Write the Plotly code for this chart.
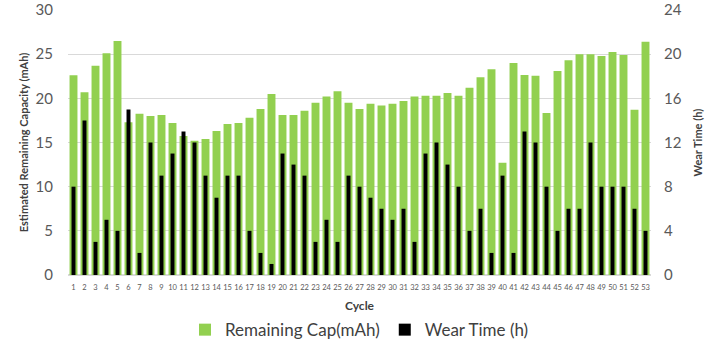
import plotly.graph_objects as go

cycles = [str(i) for i in range(1, 54)]
remaining_cap = [22.6, 20.7, 23.7, 25.1, 26.5, 17.3, 18.25, 18.0, 18.1, 17.2,
                 15.75, 15.2, 15.4, 16.3, 17.1, 17.2, 17.8, 18.8, 20.5, 18.1,
                 18.1, 18.6, 19.5, 20.2, 20.8, 19.5, 18.8, 19.4, 19.2, 19.4,
                 19.7, 20.2, 20.3, 20.3, 20.6, 20.3, 21.2, 22.4, 23.3, 12.7,
                 24.0, 22.65, 22.55, 18.35, 23.1, 24.3, 25.0, 25.0, 24.8, 25.25,
                 24.9, 18.7, 26.4]
wear_time = [8, 14, 3, 5, 4, 15, 2, 12, 9, 11,
             13, 12, 9, 7, 9, 9, 4, 2, 1, 11,
             10, 9, 3, 5, 3, 9, 8, 7, 6, 5,
             6, 3, 11, 12, 10, 8, 4, 6, 2, 9,
             2, 13, 12, 8, 4, 6, 6, 12, 8, 8,
             8, 6, 4]

FONT = "Lato"
fig = go.Figure()
fig.add_trace(go.Bar(x=cycles, y=remaining_cap, name="Remaining Cap(mAh)",
                     marker=dict(color="#92D050", line=dict(width=0)), width=0.72,
                     yaxis="y"))
fig.add_trace(go.Bar(x=cycles, y=wear_time, name="Wear Time (h)",
                     marker=dict(color="#000000", line=dict(width=0)), width=0.36,
                     yaxis="y2"))

fig.update_layout(
    width=720, height=364,
    margin=dict(l=68, r=69, t=10, b=89, autoexpand=False),
    paper_bgcolor="white", plot_bgcolor="white",
    barmode="overlay",
    font=dict(family=FONT, color="#595959"),
    xaxis=dict(type="category", tickfont=dict(size=7.5, color="#595959"), tickangle=0,
               automargin=False, ticklabelstandoff=6,
               title=dict(text="<b>Cycle</b>", font=dict(size=12, color="#404040"), standoff=11),
               showgrid=False, showline=False, ticks="", range=[-0.5, 52.5]),
    yaxis=dict(range=[0, 30], dtick=5, tickfont=dict(size=15, color="#595959"),
               automargin=False, ticklabelstandoff=14,
               title=dict(text="<b>Estimated Remaining Capacity (mAh)</b>",
                          font=dict(size=11, color="#404040"), standoff=4),
               showgrid=True, gridcolor="#D9D9D9", gridwidth=1,
               zeroline=True, zerolinecolor="#D9D9D9", showline=False, ticks=""),
    yaxis2=dict(range=[0, 24], dtick=4, overlaying="y", side="right",
                tickfont=dict(size=15, color="#595959"),
                automargin=False, ticklabelstandoff=12,
                showgrid=False, zeroline=False, showline=False, ticks=""),
    legend=dict(orientation="h", x=0.5, xanchor="center", y=-0.14, yanchor="top",
                font=dict(size=17, color="#404040"), itemwidth=30,
                bgcolor="rgba(0,0,0,0)"),
    annotations=[dict(text="<b>Wear Time (h)</b>", xref="paper", yref="paper",
                      x=1.0806, y=0.5, xanchor="center", yanchor="middle",
                      textangle=-90, showarrow=False,
                      font=dict(family=FONT, size=11, color="#404040"))],
)

fig.write_html("out.html", config={"displayModeBar": False},
               post_script="document.body.style.margin='0px';")
